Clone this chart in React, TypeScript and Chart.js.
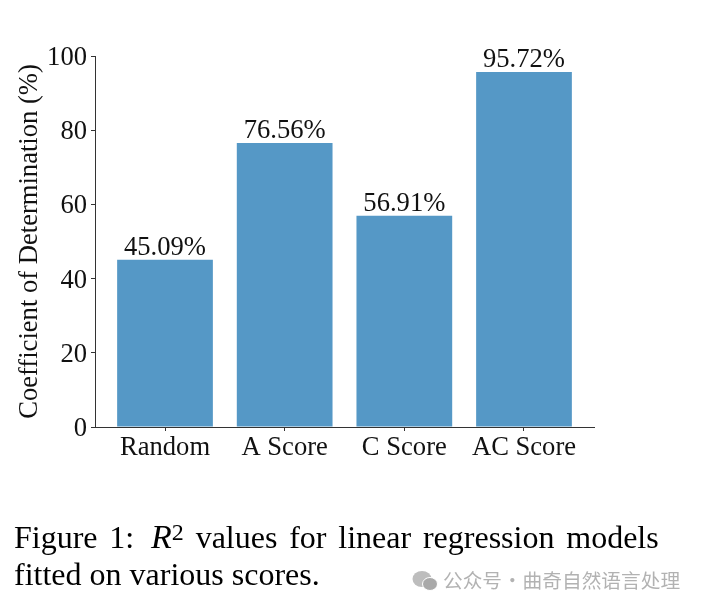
import React, { useEffect, useRef } from "react";
import { Chart, registerables } from "chart.js";

Chart.register(...registerables);

const categories = ["Random", "A Score", "C Score", "AC Score"];
const values = [45.09, 76.56, 56.91, 95.72];
const valueLabels = ["45.09%", "76.56%", "56.91%", "95.72%"];
const yTicks = [0, 20, 40, 60, 80, 100];
const yTitle = "Coefficient of Determination (%)";

const SERIF = "'Liberation Serif', serif";
const BAR = "#5598c6";
const INK = "#111111";
const FONT_SIZE = 26.6;

const barLabels = {
  id: "barLabels",
  afterDatasetsDraw(chart: any) {
    const { ctx, scales } = chart;
    const meta = chart.getDatasetMeta(0);
    ctx.save();
    ctx.font = `${FONT_SIZE}px ${SERIF}`;
    ctx.fillStyle = INK;
    ctx.textBaseline = "alphabetic";
    ctx.textAlign = "center";
    meta.data.forEach((el: any, i: number) => {
      ctx.fillText(valueLabels[i], el.x, el.y - 5);
    });
    ctx.textAlign = "right";
    yTicks.forEach((t) => {
      ctx.fillText(String(t), scales.x.left - 8, scales.y.getPixelForValue(t) + 9);
    });
    ctx.restore();
  },
};

export default function App() {
  const ref = useRef<HTMLCanvasElement>(null);
  useEffect(() => {
    const chart = new Chart(ref.current!, {
      type: "bar",
      data: {
        datasets: [
          {
            data: values.map((v, i) => ({ x: i, y: v })),
            backgroundColor: BAR,
            barPercentage: 0.8,
            categoryPercentage: 1,
          },
        ],
      },
      plugins: [barLabels],
      options: {
        animation: false,
        responsive: false,
        devicePixelRatio: 1,
        layout: { padding: { left: 0, top: 56, right: 108, bottom: 0 } },
        plugins: { legend: { display: false }, tooltip: { enabled: false } },
        scales: {
          x: {
            type: "linear",
            offset: false,
            min: -0.585,
            max: 3.585,
            afterBuildTicks: (s: any) => {
              s.ticks = categories.map((_, i) => ({ value: i }));
            },
            afterFit: (s: any) => {
              s.height = 181;
            },
            border: { color: "#333333", width: 1 },
            grid: { offset: false, drawOnChartArea: false, tickLength: 4, tickColor: "#333333" },
            ticks: {
              autoSkip: false,
              maxRotation: 0,
              padding: 1,
              color: INK,
              font: { family: SERIF, size: FONT_SIZE },
              callback: (v: any) => categories[v],
            },
          },
          y: {
            min: 0,
            max: 100,
            afterBuildTicks: (s: any) => {
              s.ticks = yTicks.map((v) => ({ value: v }));
            },
            afterFit: (s: any) => {
              s.width = 95;
            },
            border: { color: "#333333", width: 1 },
            grid: { drawOnChartArea: false, tickLength: 4, tickColor: "#333333" },
            ticks: { display: false },
            title: {
              display: true,
              text: yTitle,
              color: INK,
              font: { family: SERIF, size: FONT_SIZE },
              padding: { top: 14, bottom: 0 },
            },
          },
        },
      },
    } as any);
    return () => chart.destroy();
  }, []);

  const line: React.CSSProperties = {
    position: "absolute",
    left: 14,
    fontFamily: SERIF,
    fontSize: 32,
    color: "#000",
    whiteSpace: "nowrap",
    lineHeight: "36px",
  };
  return (
    <div style={{ position: "absolute", left: 0, top: 0, width: 702, height: 608, background: "#fff", overflow: "hidden" }}>
      <canvas ref={ref} width={702} height={608} style={{ position: "absolute", left: 0, top: 0 }} />
      <div style={{ ...line, top: 519, wordSpacing: 3.8 }}>
        Figure 1: <i style={{ marginLeft: 5, fontSize: 34 }}>R</i>
        <sup style={{ fontSize: 24, lineHeight: 0, position: "relative", top: 4 }}>2</sup> values for linear regression models
      </div>
      <div style={{ ...line, top: 556 }}>fitted on various scores.</div>
      <svg width={26} height={22} style={{ position: "absolute", left: 412, top: 570 }} viewBox="0 0 26 22">
        <ellipse cx="10" cy="9" rx="9.5" ry="8" fill="#bdbdbd" />
        <ellipse cx="18" cy="14" rx="7.5" ry="6.5" fill="#a9a9a9" stroke="#fff" />
      </svg>
      <div
        style={{
          position: "absolute",
          left: 443,
          top: 568,
          fontFamily: "'Noto Sans CJK SC', sans-serif",
          fontSize: 19.7,
          wordSpacing: -4,
          lineHeight: "24px",
          color: "#b2b2b2",
          whiteSpace: "nowrap",
        }}
      >
        公众号 · 曲奇自然语言处理
      </div>
    </div>
  );
}
